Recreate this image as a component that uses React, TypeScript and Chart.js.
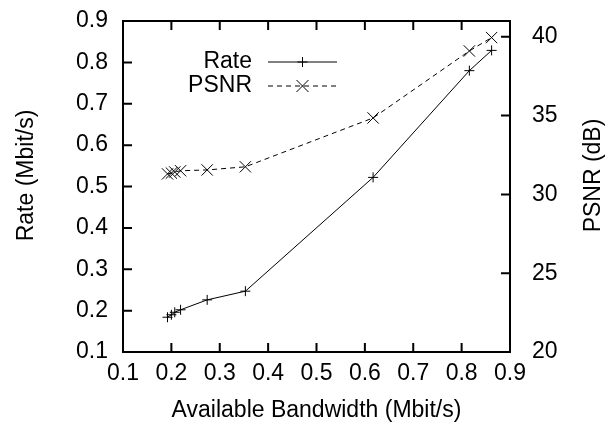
import React, { useEffect, useRef } from "react";
import { Chart, registerables } from "chart.js";

Chart.register(...registerables);

const bandwidth = [0.192, 0.2, 0.207, 0.219, 0.274, 0.353, 0.617, 0.816, 0.862];
const rate = [0.184, 0.19, 0.196, 0.202, 0.226, 0.247, 0.522, 0.78, 0.829];
const psnr = [31.3, 31.35, 31.42, 31.5, 31.55, 31.75, 34.85, 39.1, 39.95];

const xTitle = "Available Bandwidth (Mbit/s)";
const yTitle = "Rate (Mbit/s)";
const y2Title = "PSNR (dB)";
const seriesNames = ["Rate", "PSNR"];

const FONT = "'Liberation Sans', Arial, Helvetica, sans-serif";
const FS = 23;

const framePlugin = {
  id: "gnuplotFrame",
  afterDraw(chart: any) {
    const ctx = chart.ctx as CanvasRenderingContext2D;
    const a = chart.chartArea;
    const TL = 9;
    ctx.save();
    ctx.strokeStyle = "#000";
    ctx.lineWidth = 2;
    ctx.setLineDash([]);
    // ticks
    ctx.beginPath();
    const xs = chart.scales.x;
    xs.ticks.forEach((t: any) => {
      const px = xs.getPixelForValue(t.value);
      ctx.moveTo(px, a.bottom);
      ctx.lineTo(px, a.bottom - TL);
      ctx.moveTo(px, a.top);
      ctx.lineTo(px, a.top + TL);
    });
    const ys = chart.scales.y;
    ys.ticks.forEach((t: any) => {
      const py = ys.getPixelForValue(t.value);
      ctx.moveTo(a.left, py);
      ctx.lineTo(a.left + TL, py);
    });
    const y2 = chart.scales.y2;
    y2.ticks.forEach((t: any) => {
      const py = y2.getPixelForValue(t.value);
      ctx.moveTo(a.right, py);
      ctx.lineTo(a.right - TL, py);
    });
    ctx.stroke();
    ctx.strokeRect(a.left, a.top, a.right - a.left, a.bottom - a.top);

    // y titles (both read bottom-to-top)
    ctx.fillStyle = "#000";
    ctx.font = `${FS}px ${FONT}`;
    ctx.textAlign = "center";
    ctx.textBaseline = "middle";
    const cy = (a.top + a.bottom) / 2 - 11;
    ctx.save();
    ctx.translate(27, cy);
    ctx.rotate(-Math.PI / 2);
    ctx.fillText(yTitle, 0, 0);
    ctx.restore();
    ctx.save();
    ctx.translate(594, cy);
    ctx.rotate(-Math.PI / 2);
    ctx.fillText(y2Title, 0, 0);
    ctx.restore();

    // legend
    const lx0 = a.left + 145;
    const lx1 = a.left + 214;
    const textX = a.left + 129;
    const rows = [a.top + 41, a.top + 65];
    ctx.textAlign = "right";
    rows.forEach((ry, i) => {
      ctx.fillText(seriesNames[i], textX, ry);
      ctx.lineWidth = 1;
      ctx.setLineDash(i === 0 ? [] : [5, 4]);
      ctx.beginPath();
      ctx.moveTo(lx0, ry);
      ctx.lineTo(lx1, ry);
      ctx.stroke();
      ctx.setLineDash([]);
      const mx = (lx0 + lx1) / 2;
      ctx.beginPath();
      if (i === 0) {
        ctx.moveTo(mx - 5, ry);
        ctx.lineTo(mx + 5, ry);
        ctx.moveTo(mx, ry - 5);
        ctx.lineTo(mx, ry + 5);
      } else {
        const d = 6;
        ctx.moveTo(mx - d, ry - d);
        ctx.lineTo(mx + d, ry + d);
        ctx.moveTo(mx - d, ry + d);
        ctx.lineTo(mx + d, ry - d);
      }
      ctx.stroke();
    });
    ctx.restore();
  },
};

const noPad = (s: any) => {
  s.paddingTop = 0;
  s.paddingBottom = 0;
  s.paddingLeft = 0;
  s.paddingRight = 0;
};

export default function App() {
  const ref = useRef<HTMLCanvasElement>(null);
  useEffect(() => {
    if (!ref.current) return;
    const chart = new Chart(ref.current, {
      type: "scatter",
      data: {
        datasets: [
          {
            label: seriesNames[0],
            data: bandwidth.map((x, i) => ({ x, y: rate[i] })),
            showLine: true,
            borderColor: "#000",
            backgroundColor: "#000",
            borderWidth: 1,
            pointStyle: "cross",
            pointRadius: 5,
            pointBorderWidth: 1,
            pointBorderColor: "#000",
            yAxisID: "y",
          },
          {
            label: seriesNames[1],
            data: bandwidth.map((x, i) => ({ x, y: psnr[i] })),
            showLine: true,
            borderColor: "#000",
            backgroundColor: "#000",
            borderWidth: 1,
            borderDash: [5, 4],
            pointStyle: "crossRot",
            pointRadius: 8,
            pointBorderWidth: 1,
            pointBorderColor: "#000",
            yAxisID: "y2",
          },
        ],
      },
      options: {
        animation: false,
        responsive: true,
        maintainAspectRatio: false,
        layout: { autoPadding: false, padding: { top: 21, left: 0, right: 0, bottom: 0 } },
        plugins: { legend: { display: false }, tooltip: { enabled: false } },
        scales: {
          x: {
            type: "linear",
            min: 0.1,
            max: 0.9,
            grid: { display: false, drawTicks: false },
            border: { display: false },
            ticks: {
              stepSize: 0.1,
              padding: 8,
              color: "#000",
              font: { family: FONT, size: FS },
              callback: (v: any) => Number(v).toFixed(1),
            },
            title: {
              display: true,
              text: xTitle,
              color: "#000",
              font: { family: FONT, size: FS },
              padding: { top: 0, bottom: 0 },
            },
            afterFit: (s: any) => {
              s.height = 72;
              noPad(s);
            },
          },
          y: {
            type: "linear",
            position: "left",
            min: 0.1,
            max: 0.9,
            grid: { display: false, drawTicks: false },
            border: { display: false },
            ticks: {
              stepSize: 0.1,
              padding: 15,
              color: "#000",
              font: { family: FONT, size: FS },
              callback: (v: any) => Number(v).toFixed(1),
            },
            afterFit: (s: any) => {
              s.width = 123;
              noPad(s);
            },
          },
          y2: {
            type: "linear",
            position: "right",
            min: 20,
            max: 41,
            grid: { display: false, drawTicks: false },
            border: { display: false },
            ticks: {
              stepSize: 5,
              includeBounds: false,
              padding: 22,
              color: "#000",
              font: { family: FONT, size: FS },
            },
            afterFit: (s: any) => {
              s.width = 103;
              noPad(s);
            },
          },
        },
      },
      plugins: [framePlugin],
    });
    return () => chart.destroy();
  }, []);
  return (
    <div style={{ position: "absolute", left: 0, top: 0, width: 613, height: 424 }}>
      <canvas ref={ref} />
    </div>
  );
}
